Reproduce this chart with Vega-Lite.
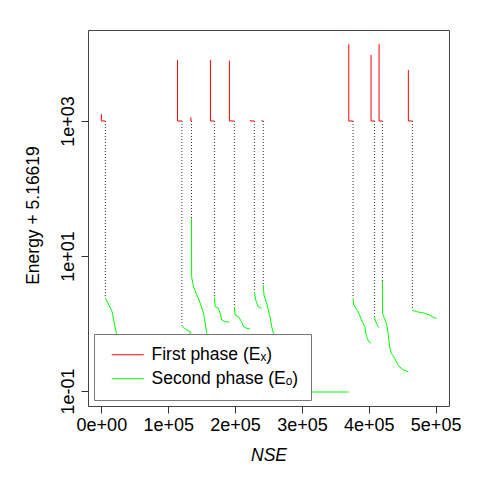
{
  "$schema": "https://vega.github.io/schema/vega-lite/v6.json",
  "width": 361,
  "height": 376,
  "autosize": "none",
  "padding": {"left": 88, "top": 30, "right": 31, "bottom": 74},
  "background": "white",
  "config": {
    "view": {"stroke": "#444", "strokeWidth": 1},
    "font": "Liberation Sans",
    "axis": {"labelFont": "Liberation Sans", "titleFont": "Liberation Sans", "labelColor": "black", "titleColor": "black", "tickColor": "#333", "domain": false, "grid": false, "titleFontWeight": "normal", "labelFontSize": 18, "titleFontSize": 17.5, "tickSize": 7}
  },
  "datasets": {
    "links": [
      {"run": 1, "x": 6000, "y": 1000, "y2": 2.36},
      {"run": 2, "x": 120400, "y": 1000, "y2": 0.93},
      {"run": 3, "x": 134800, "y": 1000, "y2": 36.2},
      {"run": 4, "x": 169100, "y": 1000, "y2": 2.44},
      {"run": 5, "x": 198900, "y": 1000, "y2": 1.77},
      {"run": 6, "x": 228800, "y": 1000, "y2": 2.9},
      {"run": 7, "x": 242200, "y": 1000, "y2": 3.72},
      {"run": 8, "x": 376500, "y": 1000, "y2": 2.36},
      {"run": 9, "x": 408500, "y": 1000, "y2": 1.26},
      {"run": 10, "x": 420400, "y": 1000, "y2": 4.26},
      {"run": 11, "x": 465200, "y": 1000, "y2": 1.58}
    ],
    "traj": [
      {"run": 1, "phase": "First phase (Eₓ)", "i": 0, "x": 0, "y": 1270},
      {"run": 1, "phase": "First phase (Eₓ)", "i": 1, "x": 0, "y": 1000},
      {"run": 1, "phase": "First phase (Eₓ)", "i": 2, "x": 6000, "y": 1000},
      {"run": 2, "phase": "First phase (Eₓ)", "i": 0, "x": 113900, "y": 8020},
      {"run": 2, "phase": "First phase (Eₓ)", "i": 1, "x": 113900, "y": 1000},
      {"run": 2, "phase": "First phase (Eₓ)", "i": 2, "x": 120400, "y": 1000},
      {"run": 3, "phase": "First phase (Eₓ)", "i": 0, "x": 133900, "y": 1135},
      {"run": 3, "phase": "First phase (Eₓ)", "i": 1, "x": 133900, "y": 1000},
      {"run": 3, "phase": "First phase (Eₓ)", "i": 2, "x": 134800, "y": 1000},
      {"run": 4, "phase": "First phase (Eₓ)", "i": 0, "x": 163100, "y": 8020},
      {"run": 4, "phase": "First phase (Eₓ)", "i": 1, "x": 163100, "y": 1000},
      {"run": 4, "phase": "First phase (Eₓ)", "i": 2, "x": 169100, "y": 1000},
      {"run": 5, "phase": "First phase (Eₓ)", "i": 0, "x": 191500, "y": 7820},
      {"run": 5, "phase": "First phase (Eₓ)", "i": 1, "x": 191500, "y": 1000},
      {"run": 5, "phase": "First phase (Eₓ)", "i": 2, "x": 198900, "y": 1000},
      {"run": 6, "phase": "First phase (Eₓ)", "i": 0, "x": 222900, "y": 1035},
      {"run": 6, "phase": "First phase (Eₓ)", "i": 1, "x": 222900, "y": 1000},
      {"run": 6, "phase": "First phase (Eₓ)", "i": 2, "x": 228800, "y": 1000},
      {"run": 7, "phase": "First phase (Eₓ)", "i": 0, "x": 239600, "y": 1010},
      {"run": 7, "phase": "First phase (Eₓ)", "i": 1, "x": 239600, "y": 1000},
      {"run": 7, "phase": "First phase (Eₓ)", "i": 2, "x": 242200, "y": 1000},
      {"run": 8, "phase": "First phase (Eₓ)", "i": 0, "x": 370100, "y": 13680},
      {"run": 8, "phase": "First phase (Eₓ)", "i": 1, "x": 370100, "y": 1000},
      {"run": 8, "phase": "First phase (Eₓ)", "i": 2, "x": 376500, "y": 1000},
      {"run": 9, "phase": "First phase (Eₓ)", "i": 0, "x": 403400, "y": 9500},
      {"run": 9, "phase": "First phase (Eₓ)", "i": 1, "x": 403400, "y": 1000},
      {"run": 9, "phase": "First phase (Eₓ)", "i": 2, "x": 408500, "y": 1000},
      {"run": 10, "phase": "First phase (Eₓ)", "i": 0, "x": 415400, "y": 13830},
      {"run": 10, "phase": "First phase (Eₓ)", "i": 1, "x": 415400, "y": 1000},
      {"run": 10, "phase": "First phase (Eₓ)", "i": 2, "x": 420400, "y": 1000},
      {"run": 11, "phase": "First phase (Eₓ)", "i": 0, "x": 459200, "y": 5700},
      {"run": 11, "phase": "First phase (Eₓ)", "i": 1, "x": 459200, "y": 1000},
      {"run": 11, "phase": "First phase (Eₓ)", "i": 2, "x": 465200, "y": 1000},

      {"run": 1, "phase": "Second phase (Eₒ)", "i": 0, "x": 6000, "y": 2.36},
      {"run": 1, "phase": "Second phase (Eₒ)", "i": 1, "x": 7460, "y": 2.23},
      {"run": 1, "phase": "Second phase (Eₒ)", "i": 2, "x": 13430, "y": 1.7},
      {"run": 1, "phase": "Second phase (Eₒ)", "i": 3, "x": 15970, "y": 1.5},
      {"run": 1, "phase": "Second phase (Eₒ)", "i": 4, "x": 18360, "y": 1.13},
      {"run": 1, "phase": "Second phase (Eₒ)", "i": 5, "x": 22390, "y": 0.72},
      {"run": 1, "phase": "Second phase (Eₒ)", "i": 6, "x": 25000, "y": 0.5},

      {"run": 2, "phase": "Second phase (Eₒ)", "i": 0, "x": 120400, "y": 0.93},
      {"run": 2, "phase": "Second phase (Eₒ)", "i": 1, "x": 125400, "y": 0.83},
      {"run": 2, "phase": "Second phase (Eₒ)", "i": 2, "x": 132800, "y": 0.76},
      {"run": 2, "phase": "Second phase (Eₒ)", "i": 3, "x": 133400, "y": 0.57},

      {"run": 3, "phase": "Second phase (Eₒ)", "i": 0, "x": 134800, "y": 36.2},
      {"run": 3, "phase": "Second phase (Eₒ)", "i": 1, "x": 135000, "y": 4.94},
      {"run": 3, "phase": "Second phase (Eₒ)", "i": 2, "x": 137800, "y": 3.51},
      {"run": 3, "phase": "Second phase (Eₒ)", "i": 3, "x": 142800, "y": 2.64},
      {"run": 3, "phase": "Second phase (Eₒ)", "i": 4, "x": 147800, "y": 2.01},
      {"run": 3, "phase": "Second phase (Eₒ)", "i": 5, "x": 152700, "y": 1.43},
      {"run": 3, "phase": "Second phase (Eₒ)", "i": 6, "x": 155200, "y": 1.02},
      {"run": 3, "phase": "Second phase (Eₒ)", "i": 7, "x": 157800, "y": 0.72},
      {"run": 3, "phase": "Second phase (Eₒ)", "i": 8, "x": 159700, "y": 0.51},
      {"run": 3, "phase": "Second phase (Eₒ)", "i": 9, "x": 162500, "y": 0.4},

      {"run": 4, "phase": "Second phase (Eₒ)", "i": 0, "x": 169100, "y": 2.44},
      {"run": 4, "phase": "Second phase (Eₒ)", "i": 1, "x": 170100, "y": 1.77},
      {"run": 4, "phase": "Second phase (Eₒ)", "i": 2, "x": 175100, "y": 1.68},
      {"run": 4, "phase": "Second phase (Eₒ)", "i": 3, "x": 177600, "y": 1.42},
      {"run": 4, "phase": "Second phase (Eₒ)", "i": 4, "x": 180100, "y": 1.13},
      {"run": 4, "phase": "Second phase (Eₒ)", "i": 5, "x": 185100, "y": 1.06},
      {"run": 4, "phase": "Second phase (Eₒ)", "i": 6, "x": 191500, "y": 1.05},

      {"run": 5, "phase": "Second phase (Eₒ)", "i": 0, "x": 198900, "y": 1.77},
      {"run": 5, "phase": "Second phase (Eₒ)", "i": 1, "x": 200000, "y": 1.34},
      {"run": 5, "phase": "Second phase (Eₒ)", "i": 2, "x": 204900, "y": 1.26},
      {"run": 5, "phase": "Second phase (Eₒ)", "i": 3, "x": 210000, "y": 1.06},
      {"run": 5, "phase": "Second phase (Eₒ)", "i": 4, "x": 212400, "y": 0.9},
      {"run": 5, "phase": "Second phase (Eₒ)", "i": 5, "x": 217500, "y": 0.85},
      {"run": 5, "phase": "Second phase (Eₒ)", "i": 6, "x": 222400, "y": 0.83},

      {"run": 6, "phase": "Second phase (Eₒ)", "i": 0, "x": 228800, "y": 2.9},
      {"run": 6, "phase": "Second phase (Eₒ)", "i": 1, "x": 230900, "y": 2.23},
      {"run": 6, "phase": "Second phase (Eₒ)", "i": 2, "x": 234800, "y": 1.77},
      {"run": 6, "phase": "Second phase (Eₒ)", "i": 3, "x": 239600, "y": 1.68},

      {"run": 7, "phase": "Second phase (Eₒ)", "i": 0, "x": 242200, "y": 3.72},
      {"run": 7, "phase": "Second phase (Eₒ)", "i": 1, "x": 243300, "y": 2.64},
      {"run": 7, "phase": "Second phase (Eₒ)", "i": 2, "x": 247300, "y": 1.99},
      {"run": 7, "phase": "Second phase (Eₒ)", "i": 3, "x": 252200, "y": 1.26},
      {"run": 7, "phase": "Second phase (Eₒ)", "i": 4, "x": 254800, "y": 0.9},
      {"run": 7, "phase": "Second phase (Eₒ)", "i": 5, "x": 257200, "y": 0.72},
      {"run": 7, "phase": "Second phase (Eₒ)", "i": 6, "x": 267200, "y": 0.29},
      {"run": 7, "phase": "Second phase (Eₒ)", "i": 7, "x": 282100, "y": 0.146},
      {"run": 7, "phase": "Second phase (Eₒ)", "i": 8, "x": 297000, "y": 0.1035},
      {"run": 7, "phase": "Second phase (Eₒ)", "i": 9, "x": 306000, "y": 0.0967},
      {"run": 7, "phase": "Second phase (Eₒ)", "i": 10, "x": 370100, "y": 0.0967},

      {"run": 8, "phase": "Second phase (Eₒ)", "i": 0, "x": 376500, "y": 2.36},
      {"run": 8, "phase": "Second phase (Eₒ)", "i": 1, "x": 377600, "y": 1.88},
      {"run": 8, "phase": "Second phase (Eₒ)", "i": 2, "x": 382500, "y": 1.58},
      {"run": 8, "phase": "Second phase (Eₒ)", "i": 3, "x": 385100, "y": 1.42},
      {"run": 8, "phase": "Second phase (Eₒ)", "i": 4, "x": 389100, "y": 1.13},
      {"run": 8, "phase": "Second phase (Eₒ)", "i": 5, "x": 394000, "y": 0.9},
      {"run": 8, "phase": "Second phase (Eₒ)", "i": 6, "x": 396600, "y": 0.64},
      {"run": 8, "phase": "Second phase (Eₒ)", "i": 7, "x": 400000, "y": 0.54},
      {"run": 8, "phase": "Second phase (Eₒ)", "i": 8, "x": 403400, "y": 0.51},

      {"run": 9, "phase": "Second phase (Eₒ)", "i": 0, "x": 408500, "y": 1.26},
      {"run": 9, "phase": "Second phase (Eₒ)", "i": 1, "x": 410400, "y": 1.06},
      {"run": 9, "phase": "Second phase (Eₒ)", "i": 2, "x": 413900, "y": 0.9},
      {"run": 9, "phase": "Second phase (Eₒ)", "i": 3, "x": 415400, "y": 0.88},

      {"run": 10, "phase": "Second phase (Eₒ)", "i": 0, "x": 420400, "y": 4.26},
      {"run": 10, "phase": "Second phase (Eₒ)", "i": 1, "x": 420500, "y": 1.42},
      {"run": 10, "phase": "Second phase (Eₒ)", "i": 2, "x": 422400, "y": 1.26},
      {"run": 10, "phase": "Second phase (Eₒ)", "i": 3, "x": 426400, "y": 1.01},
      {"run": 10, "phase": "Second phase (Eₒ)", "i": 4, "x": 428800, "y": 0.72},
      {"run": 10, "phase": "Second phase (Eₒ)", "i": 5, "x": 431300, "y": 0.45},
      {"run": 10, "phase": "Second phase (Eₒ)", "i": 6, "x": 433900, "y": 0.36},
      {"run": 10, "phase": "Second phase (Eₒ)", "i": 7, "x": 438800, "y": 0.305},
      {"run": 10, "phase": "Second phase (Eₒ)", "i": 8, "x": 443700, "y": 0.243},
      {"run": 10, "phase": "Second phase (Eₒ)", "i": 9, "x": 451200, "y": 0.205},
      {"run": 10, "phase": "Second phase (Eₒ)", "i": 10, "x": 459200, "y": 0.193},

      {"run": 11, "phase": "Second phase (Eₒ)", "i": 0, "x": 465200, "y": 1.58},
      {"run": 11, "phase": "Second phase (Eₒ)", "i": 1, "x": 471200, "y": 1.5},
      {"run": 11, "phase": "Second phase (Eₒ)", "i": 2, "x": 483600, "y": 1.42},
      {"run": 11, "phase": "Second phase (Eₒ)", "i": 3, "x": 491000, "y": 1.34},
      {"run": 11, "phase": "Second phase (Eₒ)", "i": 4, "x": 495900, "y": 1.24},
      {"run": 11, "phase": "Second phase (Eₒ)", "i": 5, "x": 501000, "y": 1.19}
    ]
  },
  "encoding": {
    "x": {
      "field": "x", "type": "quantitative",
      "scale": {"domain": [-20000, 520000], "nice": false, "zero": false},
      "axis": {
        "values": [0, 100000, 200000, 300000, 400000, 500000],
        "labelExpr": "datum.value == 0 ? '0e+00' : format(datum.value / 100000, 'd') + 'e+05'",
        "labelPadding": 3, "labelFlush": false, "labelOverlap": false,
        "title": "NSE", "titleFontStyle": "italic", "titlePadding": 12
      }
    },
    "y": {
      "field": "y", "type": "quantitative",
      "scale": {"type": "log", "domain": [0.06, 22300], "nice": false},
      "axis": {
        "values": [0.1, 10, 1000],
        "labelExpr": "datum.value >= 1000 ? '1e+03' : datum.value >= 10 ? '1e+01' : '1e-01'",
        "labelAngle": 270, "labelAlign": "center", "labelBaseline": "alphabetic",
        "labelPadding": 8, "labelFlush": false, "labelOverlap": false, "labelBound": false,
        "title": "Energy + 5.16619", "titleAngle": 270, "titleBaseline": "alphabetic", "titleAlign": "center", "titleX": -50, "titleY": 185
      }
    }
  },
  "layer": [
    {
      "data": {"name": "links"},
      "mark": {"type": "rule", "strokeDash": [1, 2], "color": "#333", "strokeWidth": 1},
      "encoding": {"y2": {"field": "y2"}}
    },
    {
      "data": {"name": "traj"},
      "mark": {"type": "line", "strokeWidth": 1},
      "encoding": {
        "color": {
          "field": "phase", "type": "nominal",
          "scale": {"domain": ["First phase (Eₓ)", "Second phase (Eₒ)"], "range": ["#ff0000", "#00ff00"]},
          "legend": {
            "orient": "none", "legendX": 6, "legendY": 304, "title": null,
            "symbolType": "M-2,0H2", "symbolSize": 256, "symbolStrokeWidth": 1,
            "labelFont": "Liberation Sans", "labelFontSize": 17.5, "labelColor": "black",
            "fillColor": "white", "strokeColor": "#777", "padding": 12, "rowPadding": 5,
            "symbolOffset": 13, "labelOffset": 15
          }
        },
        "detail": {"field": "run", "type": "nominal"},
        "order": {"field": "i", "type": "quantitative"}
      }
    }
  ]
}
